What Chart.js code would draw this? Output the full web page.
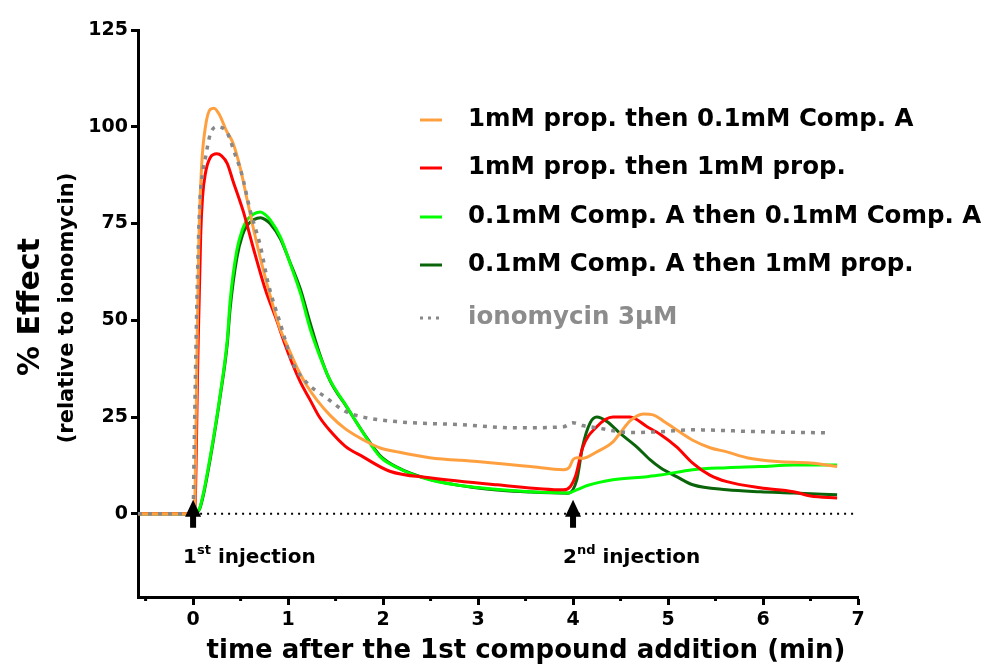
<!DOCTYPE html>
<html>
<head>
<meta charset="utf-8">
<script src="https://cdn.jsdelivr.net/npm/chart.js@4.4.1/dist/chart.umd.min.js"></script>
<style>
  html, body { margin: 0; padding: 0; background: #fff; }
  #wrap { width: 986px; height: 666px; position: relative; }
</style>
</head>
<body>
<div id="wrap"><canvas id="effectChart"></canvas></div>
<script>
// Ca2+ response traces, % effect relative to ionomycin
// each trace keeps its own time points (min)

const orangeT = [-0.58, -0.3, 0, 0.02, 0.04, 0.06, 0.09, 0.13, 0.18, 0.22, 0.28, 0.35, 0.42, 0.5, 0.57, 0.66, 0.76, 0.85, 0.92, 1.0, 1.1, 1.2, 1.3, 1.44, 1.6, 1.8, 1.97, 2.15, 2.49, 2.99, 3.3, 3.55, 3.9, 3.96, 4.0, 4.04, 4.1, 4.25, 4.42, 4.5, 4.6, 4.74, 4.85, 4.95, 5.1, 5.26, 5.45, 5.62, 5.83, 6.15, 6.5, 6.78];
const orangeY = [0, 0, 0, 5, 40, 70, 90, 100, 104.5, 104.8, 103, 99, 95.8, 89, 81, 71, 61, 53, 47.5, 43, 37.5, 33, 29.5, 25.5, 22, 19, 17, 16, 14.5, 13.5, 12.8, 12.2, 11.4, 12, 14, 14.5, 14.3, 16, 18.6, 21, 24, 25.8, 25.5, 24, 21.5, 19, 17, 16, 14.5, 13.5, 13.1, 12.2];

const redT = [-0.58, -0.3, 0, 0.02, 0.05, 0.08, 0.1, 0.13, 0.18, 0.25, 0.3, 0.36, 0.42, 0.53, 0.63, 0.76, 0.88, 0.95, 1.05, 1.13, 1.23, 1.33, 1.44, 1.6, 1.79, 2.07, 2.49, 3.2, 3.9, 3.97, 4.03, 4.1, 4.25, 4.42, 4.6, 4.78, 4.92, 5.09, 5.26, 5.44, 5.62, 5.97, 6.32, 6.5, 6.78];
const redY = [0, 0, 0, 2, 40, 72, 82, 88, 92, 93, 92.5, 90.5, 86, 78, 69, 58, 50, 45, 38.5, 34, 29.5, 25, 21.5, 17.5, 14.7, 11, 9.3, 7.5, 6.2, 7, 10, 17, 22.5, 25, 25, 22.5, 20.5, 17.3, 13.1, 10, 8.3, 6.7, 5.7, 4.6, 4.1];

const greenT = [-0.58, -0.3, 0, 0.04, 0.07, 0.11, 0.15, 0.21, 0.28, 0.36, 0.39, 0.46, 0.52, 0.57, 0.64, 0.71, 0.76, 0.81, 0.92, 1.02, 1.13, 1.23, 1.33, 1.44, 1.62, 1.79, 1.97, 2.15, 2.49, 3.02, 3.55, 3.95, 4.05, 4.15, 4.42, 4.78, 4.92, 5.26, 5.62, 5.97, 6.32, 6.78];
const greenY = [0, 0, 0, 0.3, 1.5, 5.5, 10.6, 19, 30, 45, 55, 68, 73.5, 76, 77.5, 78, 77.3, 76, 71.5, 64.8, 57, 48, 41, 34.6, 27.6, 20.9, 14.7, 11.9, 8.8, 6.7, 5.7, 5.4, 6.3, 7.3, 8.8, 9.6, 10, 11.4, 11.9, 12.2, 12.6, 12.6];

const darkGreenT = [-0.58, -0.3, 0, 0.04, 0.07, 0.11, 0.15, 0.21, 0.28, 0.36, 0.39, 0.46, 0.52, 0.57, 0.64, 0.71, 0.76, 0.81, 0.92, 1.02, 1.13, 1.23, 1.33, 1.44, 1.62, 1.79, 1.97, 2.15, 2.49, 3.02, 3.55, 3.95, 4.04, 4.1, 4.18, 4.25, 4.36, 4.49, 4.67, 4.81, 4.92, 5.09, 5.26, 5.62, 5.97, 6.32, 6.78];
const darkGreenY = [0, 0, 0, 0.3, 1.3, 5, 10, 18.5, 29.5, 44, 53, 66, 72, 74.5, 76, 76.5, 76, 75, 71, 65, 58, 49.5, 41.5, 34.5, 27.5, 21, 15, 12, 8.9, 6.6, 5.6, 5.3, 8.8, 17.3, 23.5, 25, 23.8, 20.9, 17.3, 14, 11.9, 9.6, 7.5, 6.2, 5.7, 5.4, 4.9];

const ionoT = [-0.58, -0.3, 0, 0.01, 0.04, 0.07, 0.1, 0.13, 0.18, 0.25, 0.3, 0.36, 0.44, 0.51, 0.6, 0.71, 0.79, 0.92, 1.05, 1.2, 1.39, 1.6, 1.79, 2.15, 2.84, 3.41, 3.9, 4.0, 4.1, 4.25, 4.6, 4.92, 5.26, 5.97, 6.7];
const ionoY = [0, 0, 0, 15, 55, 80, 88, 92, 98, 100, 99.8, 98.4, 93, 88, 78.5, 69, 59.6, 49, 39, 33.8, 30.2, 26.5, 25, 23.8, 23, 22.2, 22.5, 23.5, 22.8, 22.2, 21, 21.2, 21.7, 21.2, 20.9];

const seriesLabels = [
    '1mM prop. then 0.1mM Comp. A',
    '1mM prop. then 1mM prop.',
    '0.1mM Comp. A then 0.1mM Comp. A',
    '0.1mM Comp. A then 1mM prop.',
    'ionomycin 3\u00b5M'
];

const xTicks = [0, 1, 2, 3, 4, 5, 6, 7];
const xMinorTicks = [-0.5, 0.5, 1.5, 2.5, 3.5, 4.5, 5.5, 6.5];
const yTicks = [0, 25, 50, 75, 100, 125];
const injectionTimes = [0, 4];
const injectionNumbers = ['1', '2'];
const injectionSuffixes = ['st', 'nd'];

const FONT = "'DejaVu Sans', 'Liberation Sans', Arial, sans-serif";

function pts(t, y) {
    return t.map((x, i) => ({ x: x, y: y[i] }));
}

function line(label, data, color, order, dash) {
    return {
        label: label,
        data: data,
        borderColor: color,
        backgroundColor: color,
        borderWidth: dash ? 3.5 : 3,
        borderDash: dash || [],
        pointRadius: 0,
        cubicInterpolationMode: 'monotone',
        fill: false,
        order: order
    };
}

// axis titles, legend, arrows and the dotted zero line
const decorations = {
    id: 'decorations',
    beforeDatasetsDraw(chart) {
        const { ctx, scales: { x, y } } = chart;
        ctx.save();
        ctx.strokeStyle = '#000';
        ctx.lineWidth = 2;
        ctx.setLineDash([2, 5]);
        ctx.beginPath();
        ctx.moveTo(x.getPixelForValue(0), y.getPixelForValue(0));
        ctx.lineTo(x.getPixelForValue(7), y.getPixelForValue(0));
        ctx.stroke();
        ctx.restore();
    },
    afterDatasetsDraw(chart) {
        const { ctx, scales: { x, y } } = chart;
        ctx.save();
        injectionTimes.forEach((t, i) => {
            const px = x.getPixelForValue(t);
            const tip = y.getPixelForValue(0) - 14;
            ctx.fillStyle = '#000';
            ctx.beginPath();
            ctx.moveTo(px, tip);
            ctx.lineTo(px + 8, tip + 17);
            ctx.lineTo(px + 3, tip + 17);
            ctx.lineTo(px + 3, tip + 28);
            ctx.lineTo(px - 3, tip + 28);
            ctx.lineTo(px - 3, tip + 17);
            ctx.lineTo(px - 8, tip + 17);
            ctx.closePath();
            ctx.fill();

            // "1st injection"
            let tx = px - 10;
            const base = 563;
            ctx.textBaseline = 'alphabetic';
            ctx.textAlign = 'left';
            ctx.font = 'bold 20px ' + FONT;
            ctx.fillText(injectionNumbers[i], tx, base);
            tx += ctx.measureText(injectionNumbers[i]).width;
            ctx.font = 'bold 13px ' + FONT;
            ctx.fillText(injectionSuffixes[i], tx, base - 9);
            tx += ctx.measureText(injectionSuffixes[i]).width;
            ctx.font = 'bold 20px ' + FONT;
            ctx.fillText(' injection', tx, base);
        });
        ctx.restore();
    },
    afterDraw(chart) {
        const { ctx, scales: { x, y } } = chart;
        ctx.save();

        // minor ticks on x
        ctx.strokeStyle = '#000';
        ctx.lineWidth = 3;
        xMinorTicks.forEach(v => {
            const px = x.getPixelForValue(v);
            ctx.beginPath();
            ctx.moveTo(px, y.bottom);
            ctx.lineTo(px, y.bottom + 4);
            ctx.stroke();
        });

        // axis titles
        ctx.fillStyle = '#000';
        ctx.textAlign = 'center';
        ctx.textBaseline = 'middle';
        ctx.font = 'bold 26px ' + FONT;
        ctx.fillText('time after the 1st compound addition (min)', 526, 651);

        ctx.save();
        ctx.translate(31, 307);
        ctx.rotate(-Math.PI / 2);
        ctx.font = 'bold 30px ' + FONT;
        ctx.fillText('% Effect', 0, 0);
        ctx.restore();

        ctx.save();
        ctx.translate(68, 308);
        ctx.rotate(-Math.PI / 2);
        ctx.font = 'bold 21px ' + FONT;
        ctx.fillText('(relative to ionomycin)', 0, 0);
        ctx.restore();

        // legend inside plot
        const rows = [120, 168, 217, 265, 318];
        ctx.textAlign = 'left';
        ctx.font = 'bold 24.5px ' + FONT;
        chart.data.datasets.forEach((ds, i) => {
            const ry = rows[i];
            ctx.strokeStyle = ds.borderColor;
            ctx.lineWidth = 3;
            ctx.setLineDash(ds.borderDash.length ? [3, 5] : []);
            ctx.beginPath();
            ctx.moveTo(420, ry);
            ctx.lineTo(442, ry);
            ctx.stroke();
            ctx.setLineDash([]);
            ctx.fillStyle = ds.borderDash.length ? '#8c8c8c' : '#000';
            ctx.fillText(ds.label, 468, ry);
        });
        ctx.restore();
    }
};

Chart.defaults.font.family = FONT;
Chart.defaults.color = '#000';

new Chart(document.getElementById('effectChart'), {
    type: 'line',
    data: {
        datasets: [
            line(seriesLabels[0], pts(orangeT, orangeY), '#FFA040', 1),
            line(seriesLabels[1], pts(redT, redY), '#FF0000', 2),
            line(seriesLabels[2], pts(greenT, greenY), '#00FF00', 3),
            line(seriesLabels[3], pts(darkGreenT, darkGreenY), '#0A640A', 4),
            line(seriesLabels[4], pts(ionoT, ionoY), '#888888', 0, [4, 6])
        ]
    },
    options: {
        responsive: true,
        maintainAspectRatio: false,
        animation: false,
        layout: { padding: { left: 0, right: 128, top: 30, bottom: 0 } },
        plugins: {
            legend: { display: false },
            tooltip: { enabled: false }
        },
        scales: {
            x: {
                type: 'linear',
                min: -0.58,
                max: 7,
                afterBuildTicks: s => { s.ticks = xTicks.map(v => ({ value: v })); },
                afterFit: s => { s.height = 69; },
                border: { display: true, color: '#000', width: 3 },
                grid: { drawOnChartArea: false, drawTicks: true, tickLength: 8, tickWidth: 3, tickColor: '#000' },
                ticks: { font: { size: 19, weight: 'bold' }, color: '#000', padding: 4, maxRotation: 0 }
            },
            y: {
                min: -21.5,
                max: 125,
                afterBuildTicks: s => { s.ticks = yTicks.map(v => ({ value: v })); },
                afterFit: s => { s.width = 138; },
                border: { display: true, color: '#000', width: 3 },
                grid: { drawOnChartArea: false, drawTicks: true, tickLength: 7, tickWidth: 3, tickColor: '#000' },
                ticks: { font: { size: 19, weight: 'bold' }, color: '#000', padding: 3 }
            }
        }
    },
    plugins: [decorations]
});
</script>
</body>
</html>
